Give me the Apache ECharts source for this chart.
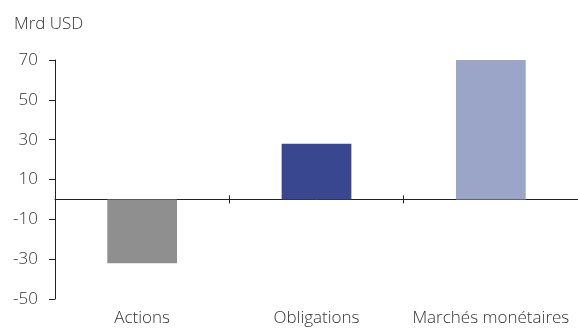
<!DOCTYPE html>
<html>
<head>
<meta charset="utf-8">
<script src="https://cdn.jsdelivr.net/npm/echarts@6/dist/echarts.min.js"></script>
<style>
  html, body { margin: 0; padding: 0; background: #fff; }
  #chart { width: 578px; height: 329px; }
</style>
</head>
<body>
<div id="chart"></div>
<script>
const categories = ['Actions', 'Obligations', 'Marchés monétaires']
const values = [-32, 28, 70]
const barColors = ['#8f8f8f', '#394791', '#9ba5c8']
const yMin = -50
const yMax = 70
const yStep = 20

const font = '"Open Sans", "Noto Sans", sans-serif'
const textColor = '#333'
const axisColor = '#222'

const chart = echarts.init(document.getElementById('chart'))

chart.setOption({
  animation: false,
  title: {
    text: 'Mrd USD',
    left: 9,
    top: 11,
    textStyle: { fontFamily: font, fontSize: 17, fontWeight: 300, color: textColor }
  },
  grid: { left: 55, right: 0, top: 60, bottom: 30 },
  xAxis: [
    {
      // labels along the bottom of the plot
      type: 'category',
      data: categories,
      position: 'bottom',
      axisLine: { show: false, onZero: false },
      axisTick: { show: false },
      axisLabel: { interval: 0, fontFamily: font, fontSize: 17, fontWeight: 300, color: textColor, margin: 11 }
    },
    {
      // zero line, ticks pointing down
      type: 'category',
      data: categories,
      position: 'bottom',
      axisLine: { show: true, onZero: true, onZeroAxisIndex: 0, lineStyle: { color: axisColor, width: 1 } },
      axisTick: { show: true, length: 4, lineStyle: { color: axisColor } },
      axisLabel: { show: false }
    },
    {
      // ticks pointing up
      type: 'category',
      data: categories,
      position: 'top',
      axisLine: { show: false, onZero: true, onZeroAxisIndex: 0 },
      axisTick: { show: true, length: 4, lineStyle: { color: axisColor } },
      axisLabel: { show: false }
    }
  ],
  yAxis: {
    type: 'value',
    min: yMin,
    max: yMax,
    interval: yStep,
    axisLine: { show: true, lineStyle: { color: axisColor, width: 1 } },
    axisTick: { show: true, length: 6, lineStyle: { color: axisColor } },
    splitLine: { show: false },
    axisLabel: { fontFamily: font, fontSize: 17, fontWeight: 300, color: textColor, margin: 17 }
  },
  series: [
    {
      type: 'bar',
      xAxisIndex: 0,
      barWidth: '40%',
      data: values.map((v, i) => ({ value: v, itemStyle: { color: barColors[i] } }))
    }
  ]
})
</script>
</body>
</html>
